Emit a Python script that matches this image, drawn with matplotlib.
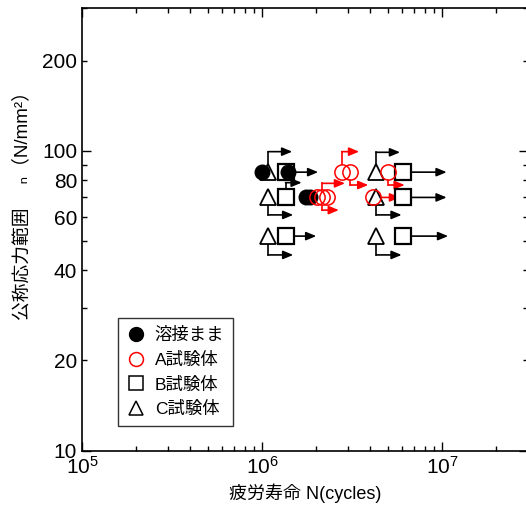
import numpy as np
import matplotlib
matplotlib.use('Agg')
import matplotlib.pyplot as plt
from matplotlib.lines import Line2D
from matplotlib.ticker import FixedLocator, FixedFormatter

plt.rcParams['font.family'] = ['Liberation Sans', 'Noto Sans CJK JP', 'DejaVu Sans']
plt.rcParams['mathtext.fontset'] = 'custom'
plt.rcParams['mathtext.rm'] = 'Liberation Sans'

# data: fatigue life N (cycles) and stress range (N/mm2)
asweld_N = [1.00e6, 1.39e6, 1.76e6, 1.85e6]
asweld_S = [85, 85, 70, 70]
a_N = [2.02e6, 2.15e6, 2.30e6, 2.77e6, 3.08e6, 5.03e6, 4.15e6]
a_S = [70, 70, 70, 85, 85, 85, 70]
b_N = [1.35e6, 1.35e6, 1.35e6, 6.09e6, 6.09e6, 6.09e6]
b_S = [85, 70, 52, 85, 70, 52]
c_N = [1.08e6, 1.08e6, 1.08e6, 4.30e6, 4.30e6, 4.30e6]
c_S = [85, 70, 52, 85, 70, 52]

# run-out arrows: start point, stress where the line turns, end N, colour
arr_N0 = [1.08e6, 1.35e6, 1.08e6, 1.35e6, 1.08e6, 1.35e6,
          4.30e6, 6.09e6, 4.30e6, 6.09e6, 4.30e6, 6.09e6,
          2.15e6, 2.15e6, 2.77e6, 3.08e6, 5.03e6, 4.15e6]
arr_S0 = [85, 85, 70, 70, 52, 52,
          85, 85, 70, 70, 52, 52,
          70, 70, 85, 85, 85, 70]
arr_S1 = [99.5, 85, 61.2, 78.4, 45.0, 52,
          99.0, 85, 61.2, 70, 45.0, 52,
          78.0, 63.5, 99.5, 77.0, 77.0, 70]
arr_N1 = [1.47e6, 2.05e6, 1.49e6, 1.66e6, 1.49e6, 2.00e6,
          5.84e6, 1.06e7, 5.96e6, 1.06e7, 5.96e6, 1.08e7,
          2.89e6, 2.67e6, 3.46e6, 3.89e6, 6.20e6, 5.84e6]
arr_col = ['k'] * 12 + ['red'] * 6

fig = plt.figure(figsize=(5.26, 5.19), dpi=100)
ax = fig.add_axes([82 / 526, (519 - 450.7) / 519, 446 / 526, 442.7 / 519])
ax.set_xscale('log')
ax.set_yscale('log')
ax.set_xlim(1e5, 3e7)
ax.set_ylim(10, 300)

# arrows (red ones start at the circle edge, black ones are hidden under white markers)
for n0, s0, s1, n1, c in zip(arr_N0, arr_S0, arr_S1, arr_N1, arr_col):
    if s1 != s0:
        edge = s0
        if c == 'red':
            edge = s0 * 1.065 if s1 > s0 else s0 / 1.065
        ax.plot([n0, n0], [edge, s1], color=c, lw=1.2, zorder=1)
        start = (n0, s1)
    else:
        start = (n0 * 1.1 if c == 'red' else n0, s0)
    ax.annotate('', xy=(n1, s1), xytext=start, zorder=1,
                arrowprops=dict(arrowstyle='-|>,head_length=0.6,head_width=0.25',
                                color=c, lw=1.2, shrinkA=0, shrinkB=0))

ax.plot(c_N, c_S, '^', ms=11.5, mfc='white', mec='k', mew=1.3, ls='none', zorder=3)
ax.plot(b_N, b_S, 's', ms=11, mfc='white', mec='k', mew=1.6, ls='none', zorder=3)
ax.plot(asweld_N, asweld_S, 'o', ms=10.5, mfc='k', mec='k', ls='none', zorder=4)
ax.plot(a_N, a_S, 'o', ms=11, mfc='none', mec='red', mew=1.1, ls='none', zorder=5)

# ticks
ax.yaxis.set_major_locator(FixedLocator([10, 100]))
ax.yaxis.set_minor_locator(FixedLocator([20, 30, 40, 50, 60, 70, 80, 90, 200, 300]))
ax.yaxis.set_major_formatter(FixedFormatter(['10', '100']))
ax.yaxis.set_minor_formatter(FixedFormatter(['20', '', '40', '', '60', '', '80', '', '200', '']))
ax.tick_params(which='both', direction='in', top=True, right=True, labelsize=15)
ax.tick_params(which='major', length=6.5, width=1)
ax.tick_params(which='minor', length=3.5, width=1)
ax.tick_params(axis='x', which='minor', labelbottom=False)
for sp in ax.spines.values():
    sp.set_linewidth(1.2)

ax.set_xlabel('疲労寿命 N(cycles)', fontsize=13, labelpad=4)
ax.set_ylabel('公称応力範囲　 ₙ（N/mm²）', fontsize=13.5)
ax.yaxis.set_label_coords(-0.114, 0.565)

handles = [
    Line2D([], [], marker='o', ls='none', ms=10, mfc='k', mec='k'),
    Line2D([], [], marker='o', ls='none', ms=10, mfc='none', mec='red', mew=1.1),
    Line2D([], [], marker='s', ls='none', ms=10, mfc='none', mec='k', mew=1.1),
    Line2D([], [], marker='^', ls='none', ms=10, mfc='none', mec='k', mew=1.1),
]
leg = ax.legend(handles, ['溶接まま', 'A試験体', 'B試験体', 'C試験体'],
                loc='upper left', bbox_to_anchor=(0.0814, 0.299), borderaxespad=0,
                fontsize=12.5, frameon=True, fancybox=False, handlelength=1.0,
                handletextpad=0.6, labelspacing=0.5, borderpad=0.5)
leg.get_frame().set_edgecolor('k')
leg.get_frame().set_linewidth(1.0)

fig.savefig('out.png', dpi=100)
